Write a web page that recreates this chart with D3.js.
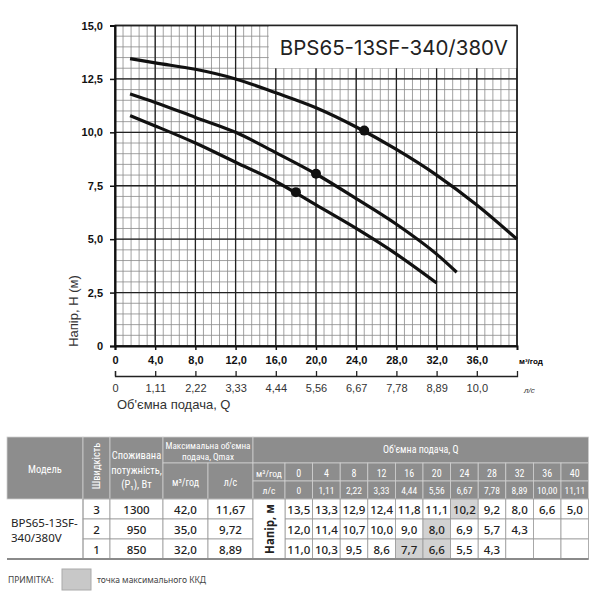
<!DOCTYPE html>
<meta charset="utf-8">
<script src="https://d3js.org/d3.v7.min.js"></script>
<style>
  body { margin: 0; background: #fff; }
  svg text { font-family: "Noto Sans", sans-serif; }
  .hdr { font-family: "Liberation Sans Narrow", "Roboto Condensed", Roboto, sans-serif !important; fill: #fff; }
</style>
<div id="chart"></div>
<script>

// flow points of the curves / table
const flowM3h = [0, 4, 8, 12, 16, 20, 24, 28, 32, 36, 40];
const flowLs = ["0", "1,11", "2,22", "3,33", "4,44", "5,56", "6,67", "7,78", "8,89", "10,00", "11,11"];

// axis ticks
const headTicks = [0, 2.5, 5, 7.5, 10, 12.5, 15];
const flowTicks = [0, 4, 8, 12, 16, 20, 24, 28, 32, 36];
const lsTicks = ["0", "1,11", "2,22", "3,33", "4,44", "5,56", "6,67", "7,78", "8,89", "10,0"];

// table rows
const model = ["BPS65-13SF-", "340/380V"];
const speeds = [3, 2, 1];
const power = [1300, 950, 850];
const qmaxM3h = ["42,0", "35,0", "32,0"];
const qmaxLs = ["11,67", "9,72", "8,89"];
const head3 = ["13,5", "13,3", "12,9", "12,4", "11,8", "11,1", "10,2", "9,2", "8,0", "6,6", "5,0"];
const head2 = ["12,0", "11,4", "10,7", "10,0", "9,0", "8,0", "6,9", "5,7", "4,3"];
const head1 = ["11,0", "10,3", "9,5", "8,6", "7,7", "6,6", "5,5", "4,3"];
// cells marked as max efficiency (index in flowM3h)
const best3 = [6], best2 = [5], best1 = [4, 5];

// curves: [Q m3/h, H m]
const curve3 = [[1.5, 13.45], [4, 13.25], [8, 12.95], [12, 12.5], [16, 11.85], [20, 11.15], [24, 10.25], [28, 9.2], [32, 8.0], [36, 6.6], [40, 5.0]];
const curve2 = [[1.5, 11.8], [4, 11.4], [8, 10.7], [12, 10.0], [16, 9.05], [20, 8.05], [24, 6.9], [28, 5.7], [32, 4.3], [34, 3.45]];
const curve1 = [[1.5, 10.78], [4, 10.3], [8, 9.5], [12, 8.6], [16, 7.7], [20, 6.6], [24, 5.5], [28, 4.3], [32, 2.95]];
const duty = [[24.8, 10.08], [20, 8.06], [18, 7.2]];

const svg = d3.select("#chart").append("svg")
  .attr("width", 600).attr("height", 600);

const x = d3.scaleLinear().domain([0, 40]).range([115, 517]);
const y = d3.scaleLinear().domain([0, 15]).range([346, 25.5]);
const comma = d => d === 0 ? "0" : d3.format(".1f")(d).replace(".", ",");

// grid
const grid = svg.append("g");
grid.selectAll(".vmin").data(d3.range(0, 40.01, 0.8)).join("line")
  .attr("x1", d => x(d)).attr("x2", d => x(d)).attr("y1", y(0)).attr("y2", y(15))
  .attr("stroke", "#8a8a8a").attr("stroke-width", 0.8);
grid.selectAll(".hmin").data(d3.range(0, 15.01, 0.5)).join("line")
  .attr("y1", d => y(d)).attr("y2", d => y(d)).attr("x1", x(0)).attr("x2", x(40))
  .attr("stroke", "#8a8a8a").attr("stroke-width", 0.8);
grid.selectAll(".vmaj").data(d3.range(0, 40.01, 4)).join("line")
  .attr("x1", d => x(d)).attr("x2", d => x(d)).attr("y1", y(0)).attr("y2", y(15))
  .attr("stroke", "#222").attr("stroke-width", 1.3);
grid.selectAll(".hmaj").data(headTicks).join("line")
  .attr("y1", d => y(d)).attr("y2", d => y(d)).attr("x1", x(0)).attr("x2", x(40))
  .attr("stroke", "#222").attr("stroke-width", 1.3);

// title box
svg.append("rect").attr("x", x(15.3)).attr("y", y(15))
  .attr("width", x(40) - x(15.3)).attr("height", y(13) - y(15)).attr("fill", "#fff");
svg.append("text").attr("x", (x(15.3) + x(40)) / 2 + 1).attr("y", 55)
  .attr("text-anchor", "middle").attr("font-size", 20.5).attr("fill", "#222")
  .style("font-family", "Inter, sans-serif").text("BPS65-13SF-340/380V");

// border
svg.append("rect").attr("x", x(0)).attr("y", y(15)).attr("width", x(40) - x(0)).attr("height", y(0) - y(15))
  .attr("fill", "none").attr("stroke", "#222").attr("stroke-width", 1.5);

// curves
const line = d3.line().x(d => x(d[0])).y(d => y(d[1])).curve(d3.curveMonotoneX);
svg.selectAll(".curve").data([curve3, curve2, curve1]).join("path")
  .attr("d", line).attr("fill", "none").attr("stroke", "#111").attr("stroke-width", 3.2);
svg.selectAll(".duty").data(duty).join("circle")
  .attr("cx", d => x(d[0])).attr("cy", d => y(d[1])).attr("r", 5).attr("fill", "#111");

// axes
const yAxis = svg.append("g").attr("transform", `translate(${x(0)},0)`)
  .call(d3.axisLeft(y).tickValues(headTicks).tickFormat(comma).tickSize(5).tickPadding(7));
const xAxis = svg.append("g").attr("transform", `translate(0,${y(0)})`)
  .call(d3.axisBottom(x).tickValues(flowTicks).tickFormat(comma).tickSize(4).tickPadding(6));
[yAxis, xAxis].forEach(a => {
  a.select(".domain").attr("stroke", "#111").attr("stroke-width", 2);
  a.selectAll(".tick line").attr("stroke", "#111").attr("stroke-width", 1.5);
  a.selectAll("text").attr("font-size", 11).attr("font-weight", "bold").attr("fill", "#111")
    .style("font-family", "'Liberation Sans', Arial, sans-serif");
});
svg.append("text").attr("x", 519).attr("y", 364).attr("font-size", 8).attr("font-weight", "bold")
  .style("font-family", "'Liberation Sans', Arial, sans-serif").text("м³/год");

const lsAxis = svg.append("g").attr("transform", "translate(0,376)")
  .call(d3.axisBottom(x).tickValues(flowTicks).tickFormat((d, i) => lsTicks[i])
    .tickSizeInner(-5).tickSizeOuter(-5).tickPadding(8));
lsAxis.select(".domain").attr("stroke", "#222").attr("stroke-width", 1.3);
lsAxis.selectAll(".tick line").attr("stroke", "#222").attr("stroke-width", 1.3);
lsAxis.selectAll("text").attr("font-size", 11).attr("fill", "#333")
  .style("font-family", "'Liberation Sans', Arial, sans-serif");
svg.append("text").attr("x", 524).attr("y", 393).attr("font-size", 8).attr("font-style", "italic")
  .attr("fill", "#333").style("font-family", "'Liberation Sans', Arial, sans-serif").text("л/с");

svg.append("text").attr("x", 117).attr("y", 409).attr("font-size", 13).attr("fill", "#333")
  .style("font-family", "'Liberation Sans', Arial, sans-serif").text("Об'ємна  подача, Q");
svg.append("text").attr("transform", "translate(78,311) rotate(-90)").attr("text-anchor", "middle")
  .attr("font-size", 13).attr("fill", "#333")
  .style("font-family", "'Liberation Sans', Arial, sans-serif").text("Напір, H (м)");

// ---- table ----
const tbl = svg.append("g");
const colX = [7, 83, 110, 163, 208, 253, 285].concat(flowM3h.map((d, i) => 285 + (i + 1) * 27.6));
const rowY = [437, 463, 481, 499, 519, 539, 559];
const hdrFill = "#8d8d8d";

function cell(c0, c1, r0, r1, fill, stroke) {
  tbl.append("rect").attr("x", colX[c0]).attr("y", rowY[r0])
    .attr("width", colX[c1] - colX[c0]).attr("height", rowY[r1] - rowY[r0])
    .attr("fill", fill).attr("stroke", stroke).attr("stroke-width", 0.8);
}
function label(tx, ty, str, cls, size, weight) {
  return tbl.append("text").attr("x", tx).attr("y", ty).attr("text-anchor", "middle")
    .attr("dominant-baseline", "central").attr("class", cls || null)
    .attr("font-size", size || 10).attr("font-weight", weight || null).text(str);
}
const mid = (a, b) => (a + b) / 2;

// header cells
cell(0, 1, 0, 3, hdrFill, "#d0d0d0");
cell(1, 2, 0, 3, hdrFill, "#d0d0d0");
cell(2, 3, 0, 3, hdrFill, "#d0d0d0");
cell(3, 5, 0, 1, hdrFill, "#d0d0d0");
cell(3, 4, 1, 3, hdrFill, "#d0d0d0");
cell(4, 5, 1, 3, hdrFill, "#d0d0d0");
cell(5, 17, 0, 1, hdrFill, "#d0d0d0");
cell(5, 6, 1, 2, hdrFill, "#d0d0d0");
cell(5, 6, 2, 3, hdrFill, "#d0d0d0");
flowM3h.forEach((q, i) => {
  cell(6 + i, 7 + i, 1, 2, hdrFill, "#d0d0d0");
  cell(6 + i, 7 + i, 2, 3, hdrFill, "#d0d0d0");
  label(mid(colX[6 + i], colX[7 + i]), 473, q, "hdr", 10);
  label(mid(colX[6 + i], colX[7 + i]), 490, flowLs[i], "hdr", 9.5);
});
label(45, 469, "Модель", "hdr", 10.5);
tbl.append("text").attr("transform", `translate(${mid(colX[1], colX[2])},466) rotate(-90)`)
  .attr("text-anchor", "middle").attr("dominant-baseline", "central").attr("class", "hdr")
  .attr("font-size", 10.5).text("Швидкість");
label(136.5, 455, "Споживана", "hdr", 10.5);
label(136.5, 470, "потужність,", "hdr", 10.5);
label(136.5, 484, "(P₁), Вт", "hdr", 10.5);
label(208, 445, "Максимальна об'ємна", "hdr", 9.2);
label(208, 456, "подача, Qmax", "hdr", 9.2);
label(mid(colX[3], colX[4]), 482, "м³/год", "hdr", 10);
label(mid(colX[4], colX[5]), 482, "л/с", "hdr", 10);
label(mid(colX[5], colX[17]), 449, "Об'ємна подача, Q", "hdr", 10);
label(mid(colX[5], colX[6]), 473, "м³/год", "hdr", 9.5);
label(mid(colX[5], colX[6]), 490, "л/с", "hdr", 9.5);

// data rows
const heads = [head3, head2, head1];
const bests = [best3, best2, best1];
speeds.forEach((s, r) => {
  const r0 = 3 + r;
  [s, power[r], qmaxM3h[r], qmaxLs[r]].forEach((v, c) => {
    cell(1 + c, 2 + c, r0, r0 + 1, "#fff", "#9a9a9a");
    label(mid(colX[1 + c], colX[2 + c]), mid(rowY[r0], rowY[r0 + 1]) + 0.5, v, null, 11.5, 500).attr("fill", "#222");
  });
  flowM3h.forEach((q, i) => {
    const on = bests[r].includes(i);
    cell(6 + i, 7 + i, r0, r0 + 1, on ? "#d2d2d2" : "#fff", "#9a9a9a");
    if (heads[r][i] !== undefined)
      label(mid(colX[6 + i], colX[7 + i]), mid(rowY[r0], rowY[r0 + 1]) + 0.5, heads[r][i], null, 11.5, 500).attr("fill", "#222");
  });
});
cell(5, 6, 3, 6, "#fff", "#9a9a9a");
tbl.append("text").attr("transform", `translate(${mid(colX[5], colX[6])},${mid(rowY[3], rowY[6])}) rotate(-90)`)
  .attr("text-anchor", "middle").attr("dominant-baseline", "central")
  .attr("font-size", 11.5).attr("font-weight", "bold").attr("fill", "#222").text("Напір, м");
// model cell
tbl.append("line").attr("x1", colX[1]).attr("x2", colX[1]).attr("y1", rowY[3]).attr("y2", rowY[6]).attr("stroke", "#9a9a9a").attr("stroke-width", 0.8);
model.forEach((m, i) => tbl.append("text").attr("x", 11).attr("y", 522 + i * 15)
  .attr("dominant-baseline", "central").attr("font-size", 11.5).attr("fill", "#222").text(m));
tbl.append("line").attr("x1", colX[0]).attr("x2", colX[17]).attr("y1", rowY[6]).attr("y2", rowY[6])
  .attr("stroke", "#8a8a8a").attr("stroke-width", 2);

// note
svg.append("text").attr("x", 8).attr("y", 579).attr("dominant-baseline", "central")
  .attr("font-size", 8.5).attr("fill", "#444").text("ПРИМІТКА:");
svg.append("rect").attr("x", 62).attr("y", 569).attr("width", 29).attr("height", 21)
  .attr("fill", "#c8c8c8").attr("stroke", "#aaa");
svg.append("text").attr("x", 97).attr("y", 579).attr("dominant-baseline", "central")
  .attr("font-size", 8.5).attr("fill", "#444").text("точка максимального ККД");

</script>
